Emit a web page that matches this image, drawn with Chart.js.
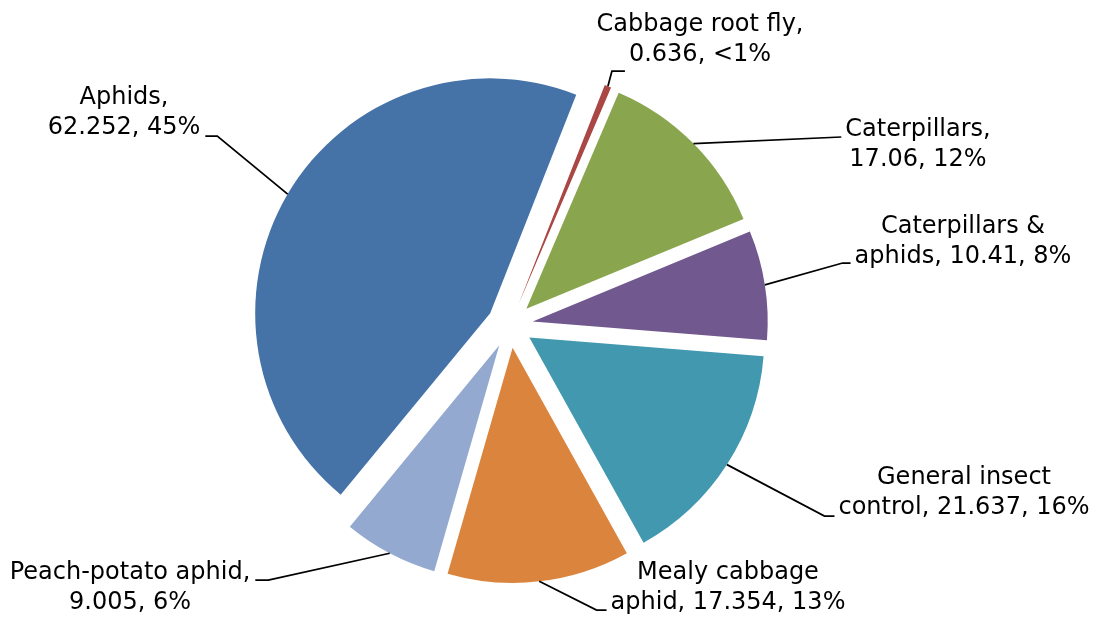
<!DOCTYPE html>
<html lang="en">
<head>
  <meta charset="utf-8">
  <style>
    body { margin: 0; background: #ffffff; }
    .chart-container { position: relative; width: 1097px; height: 619px; }
  </style>
</head>
<body>
  <div class="chart-container">
    <canvas id="myChart"></canvas>
  </div>
  <script src="https://cdn.jsdelivr.net/npm/chart.js"></script>
  <script>
    // data
    const categories = [
      'Aphids',
      'Cabbage root fly',
      'Caterpillars',
      'Caterpillars & aphids',
      'General insect control',
      'Mealy cabbage aphid',
      'Peach-potato aphid'
    ];
    const values = [62.252, 0.636, 17.06, 10.41, 21.637, 17.354, 9.005];
    const COLORS = ['#4572A7', '#AA4643', '#89A54E', '#71588F', '#4198AF', '#DB843D', '#93A9CF'];

    // how each label text is split over two lines
    const labelLines = [
      ['Aphids,', '{v}, {p}'],
      ['Cabbage root fly,', '{v}, {p}'],
      ['Caterpillars,', '{v}, {p}'],
      ['Caterpillars &', 'aphids, {v}, {p}'],
      ['General insect', 'control, {v}, {p}'],
      ['Mealy cabbage', 'aphid, {v}, {p}'],
      ['Peach-potato aphid,', '{v}, {p}']
    ];

    const total = values.reduce((a, b) => a + b, 0);
    const RADIUS = 235;
    const EXPLODE = 23;

    /* ------------------------------------------------ */

    // percentages rounded so they add up to 100 (largest remainder)
    function roundedPercents(vals) {
      const raw = vals.map(v => v / total * 100);
      const out = raw.map(Math.floor);
      let left = 100 - out.reduce((a, b) => a + b, 0);
      const order = raw.map((r, i) => i).sort((a, b) => (raw[b] - Math.floor(raw[b])) - (raw[a] - Math.floor(raw[a])));
      for (let k = 0; k < left; k++) out[order[k]] += 1;
      return out;
    }
    const percents = roundedPercents(values);

    /* ------------------------------------------------ */

    // exploded pie: move every slice out along its middle angle
    const explode = {
      id: 'explode',
      beforeDatasetDraw(chart, args) {
        const ctx = chart.ctx;
        const meta = args.meta;
        meta.data.forEach(arc => {
          const mid = (arc.startAngle + arc.endAngle) / 2;
          ctx.save();
          ctx.translate(Math.cos(mid) * EXPLODE, Math.sin(mid) * EXPLODE);
          arc.draw(ctx, chart.chartArea);
          ctx.restore();
        });
        return false;
      }
    };

    const sliceLabels = {
      id: 'sliceLabels',
      afterDatasetsDraw(chart, args, opts) {
        const ctx = chart.ctx;
        const meta = chart.getDatasetMeta(0);
        ctx.save();
        ctx.font = opts.font;
        ctx.fillStyle = '#000';
        ctx.strokeStyle = '#000';
        ctx.lineWidth = 1.75;
        ctx.textAlign = 'center';
        ctx.textBaseline = 'middle';

        meta.data.forEach((arc, i) => {
          const mid = (arc.startAngle + arc.endAngle) / 2;
          const r = arc.outerRadius + EXPLODE;
          const sx = arc.x + Math.cos(mid) * r;
          const sy = arc.y + Math.sin(mid) * r;

          const pct = percents[i] < 1 ? '<1%' : percents[i] + '%';
          const lines = labelLines[i].map(t => t.replace('{v}', values[i]).replace('{p}', pct));
          const lay = opts.layout[i];

          lines.forEach((t, k) => ctx.fillText(t, lay.x, lay.y + k * opts.lineHeight));

          // leader line end
          const w = ctx.measureText(lines[lay.line]).width;
          const ly = lay.y + lay.line * opts.lineHeight + lay.dy;
          let ex, tx;
          if (lay.side === 'left') {
            ex = lay.x - w / 2 - 4;
            tx = ex - lay.tail;
          } else {
            ex = lay.x + w / 2 + 5;
            tx = ex + lay.tail;
          }
          ctx.beginPath();
          ctx.moveTo(sx, sy);
          ctx.lineTo(tx, ly);
          ctx.lineTo(ex, ly);
          ctx.stroke();
        });
        ctx.restore();
      }
    };

    /* ------------------------------------------------ */

    const ctx = document.getElementById('myChart').getContext('2d');
    const chart = new Chart(ctx, {
      type: 'pie',
      data: {
        labels: categories,
        datasets: [{
          data: values,
          backgroundColor: COLORS,
          borderWidth: 0
        }]
      },
      options: {
        responsive: true,
        maintainAspectRatio: false,
        animation: false,
        rotation: 219.5,
        radius: RADIUS,
        layout: {
          padding: { left: 0, right: 77, top: 31, bottom: 0 }
        },
        plugins: {
          legend: { display: false },
          tooltip: { enabled: false },
          sliceLabels: {
            font: '24px "DejaVu Sans"',
            lineHeight: 30,
            layout: [
              { x: 124, y: 98, line: 1, side: 'right', dy: 8, tail: 12 },
              { x: 700, y: 25, line: 1, side: 'left', dy: 16, tail: 13 },
              { x: 918, y: 130, line: 0, side: 'left', dy: 7, tail: 0 },
              { x: 963, y: 227, line: 1, side: 'left', dy: 6, tail: 8 },
              { x: 964, y: 478, line: 1, side: 'left', dy: 8, tail: 10 },
              { x: 728, y: 573, line: 1, side: 'left', dy: 7, tail: 10 },
              { x: 130, y: 573, line: 0, side: 'right', dy: 7, tail: 13 }
            ]
          }
        }
      },
      plugins: [explode, sliceLabels]
    });
  </script>
</body>
</html>
